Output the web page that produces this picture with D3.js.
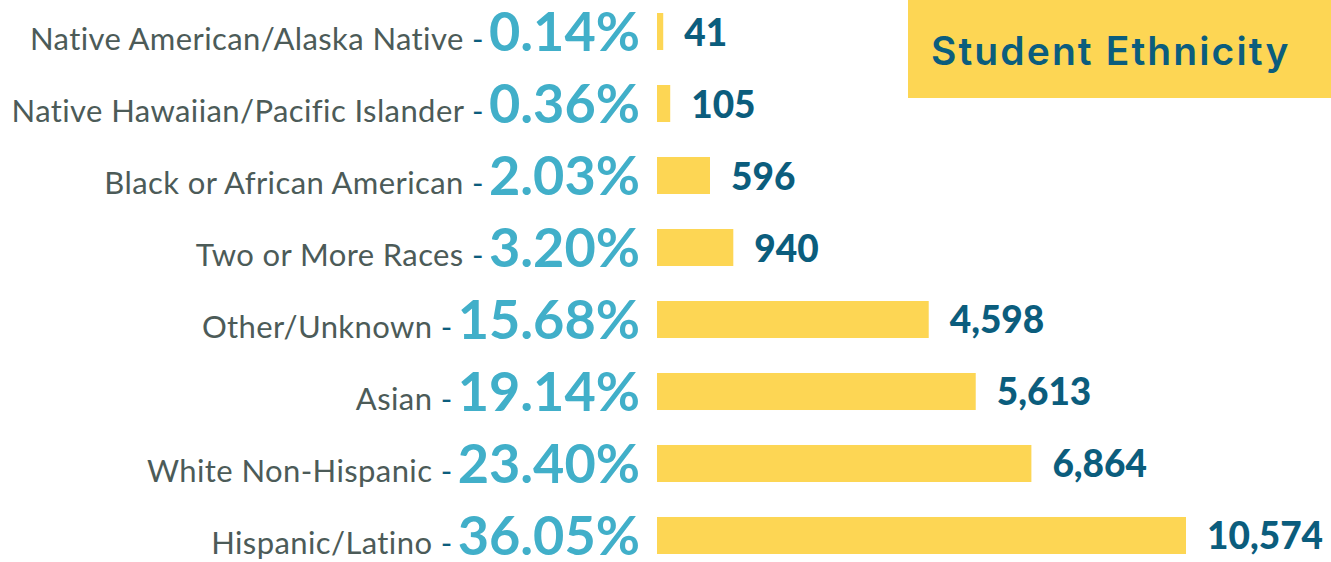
<!DOCTYPE html>
<html>
<head>
<meta charset="utf-8">
<script src="https://cdn.jsdelivr.net/npm/d3@7"></script>
<style>
  html, body { margin: 0; padding: 0; background: #fff; }
  svg { display: block; }
</style>
</head>
<body>
<svg id="chart" width="1331" height="562"></svg>
<script>

const categories = [
  'Native American/Alaska Native',
  'Native Hawaiian/Pacific Islander',
  'Black or African American',
  'Two or More Races',
  'Other/Unknown',
  'Asian',
  'White Non-Hispanic',
  'Hispanic/Latino'
];
const percents = [0.14, 0.36, 2.03, 3.20, 15.68, 19.14, 23.40, 36.05];
const counts = [41, 105, 596, 940, 4598, 5613, 6864, 10574];
const title = 'Student Ethnicity';

const width = 1331;
const height = 562;

const yellow = '#fdd654';
const teal = '#41afc9';
const navy = '#0b5d7d';
const grey = '#4c5b58';

const rows = categories.map((c, i) => ({label: c, pct: percents[i], count: counts[i]}));

const fmtPct = d => `${d3.format('.2f')(d)}%`;
const fmtCount = d3.format(',');

const y = d3.scaleBand()
  .domain(categories)
  .range([13, 554])
  .paddingInner(0.486);

// the bars in the original are not linear in the counts
const x = d3.scalePow()
  .exponent(0.8)
  .domain([0, d3.max(counts)])
  .range([657, 1186]);

const svg = d3.select('#chart');


function drawTitle(selection) {
  selection.append('rect')
      .attr('x', 908)
      .attr('y', 0)
      .attr('width', width - 908)
      .attr('height', 98)
      .style('fill', yellow);
  selection.append('text')
      .attr('x', 931)
      .attr('y', 65)
      .attr('font-family', 'Inter, "Open Sans", sans-serif')
      .attr('font-weight', 600)
      .attr('font-size', 39)
      .attr('letter-spacing', 2.1)
      .style('fill', navy)
      .text(title);
}


function drawBars(selection) {
  const bars = selection.selectAll('.bar')
    .data(rows)
    .enter()
    .append('g')
      .attr('class', 'bar');
  bars.append('rect')
      .attr('x', x(0))
      .attr('y', d => y(d.label))
      .attr('width', d => x(d.count) - x(0))
      .attr('height', y.bandwidth())
      .style('fill', yellow);
  bars.append('text')
      .attr('x', d => x(d.count) + 21)
      .attr('y', d => y(d.label) + y.bandwidth() / 2 + 14)
      .attr('font-family', 'Lato, sans-serif')
      .attr('font-weight', 900)
      .attr('font-size', 37)
      .style('fill', navy)
      .text(d => fmtCount(d.count));
}


function drawLabels(selection) {
  const labels = selection.selectAll('.row-label')
    .data(rows)
    .enter()
    .append('g')
      .attr('class', 'row-label');
  labels.append('text')
      .attr('class', 'pct')
      .attr('x', 640)
      .attr('y', d => y(d.label) + y.bandwidth() + 1)
      .attr('text-anchor', 'end')
      .attr('font-family', 'Lato, sans-serif')
      .attr('font-weight', 700)
      .attr('font-size', 54)
      .style('fill', teal)
      .text(d => fmtPct(d.pct));
  labels.each(function (d) {
    const g = d3.select(this);
    const pw = g.select('.pct').node().getComputedTextLength();
    const t = g.append('text')
        .attr('x', 640 - pw - 5)
        .attr('y', y(d.label) + y.bandwidth())
        .attr('text-anchor', 'end')
        .attr('font-family', 'Lato, sans-serif')
        .attr('font-size', 31)
        .attr('letter-spacing', 0.4)
        .style('fill', grey);
    t.append('tspan').text(`${d.label} `);
    t.append('tspan').style('fill', navy).text('-');
  });
}


svg.append('g').call(drawTitle);
svg.append('g').call(drawBars);
svg.append('g').call(drawLabels);

</script>
</body>
</html>
